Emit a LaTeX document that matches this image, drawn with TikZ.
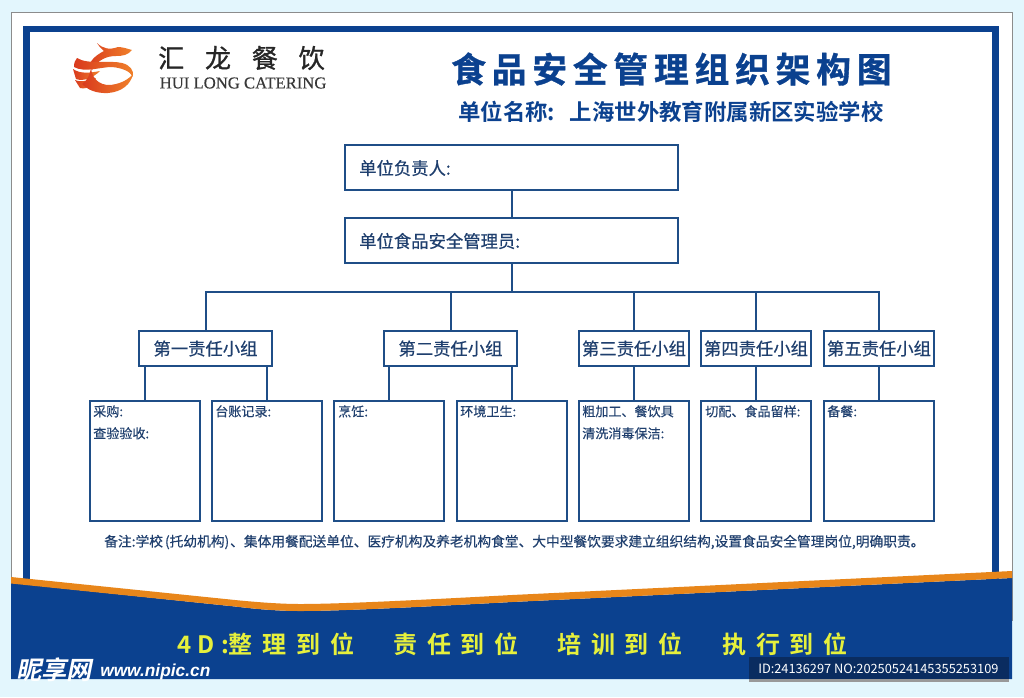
\documentclass[tikz,border=0pt]{standalone}
\usepackage{fontspec}
\setmainfont{Noto Sans CJK SC}
\newfontfamily\cjkb[BoldFont=Noto Sans CJK SC Bold]{Noto Sans CJK SC}
\newfontfamily\serifl{Liberation Serif}
\newfontfamily\sansl{Liberation Sans}
\definecolor{bgc}{HTML}{E3F6FD}
\definecolor{frame}{HTML}{0B418F}
\definecolor{linec}{HTML}{1F4E87}
\definecolor{txt}{HTML}{1F3F6E}
\definecolor{orangec}{HTML}{E8861A}
\definecolor{yel}{HTML}{E6F03C}
\definecolor{navy}{HTML}{0A2C60}
\definecolor{lred}{HTML}{D93A1E}
\definecolor{lora}{HTML}{F0812A}
\tikzset{
  x=0.75pt,y=-0.75pt,
  boxa/.style={draw=linec,line width=1.5pt,fill=white,inner sep=0pt},
  wire/.style={draw=linec,line width=1.5pt},
  toptext/.style={text=txt,anchor=west,inner sep=0pt,font=\fontsize{13}{15}\addfontfeature{FakeBold=0.4}\selectfont},
  grouptext/.style={text=txt,inner sep=0pt,font=\fontsize{13}{15}\addfontfeature{FakeBold=0.4}\selectfont},
  smalltext/.style={text=txt,anchor=north west,inner sep=0pt,align=left,font=\fontsize{9.8}{16.5}\addfontfeature{FakeBold=0.3}\selectfont},
  slogan/.style={text=yel,inner sep=0pt,anchor=west,font=\cjkb\fontsize{18}{20}\bfseries\addfontfeature{LetterSpace=41}\selectfont},
  logoband/.style={left color=lred,right color=lora},
}
\newcommand{\gbox}[4]{\node[boxa,minimum width=#3*0.75pt,minimum height=#4*0.75pt] (#1) at #2 {};}
\begin{document}
\begin{tikzpicture}
\useasboundingbox (0,0) rectangle (1024,697);
\fill[bgc] (0,0) rectangle (1024,697);
% panel
\draw[fill=white,draw=black!45,line width=0.6pt] (11.5,12.5) rectangle (1012,620);
\draw[frame,line width=4.8pt] (26.5,585) -- (26.5,29) -- (995.5,29) -- (995.5,585);
% band
\fill[frame] (11,583) -- (11,679) -- (1012,679) -- (1012,578) -- (512,602) .. controls (420,607) and (340,611) .. (300,611) .. controls (280,611) and (260,609.5) .. (235,606.5) -- cycle;
\fill[orangec] (11,577) -- (235,600) .. controls (255,602) and (280,604) .. (300,604) .. controls (340,604) and (420,600) .. (512,595) -- (1012,571) -- (1012,578) -- (512,602) .. controls (420,607) and (340,611) .. (300,611) .. controls (280,611) and (260,609.5) .. (235,606.5) -- (11,583.5) -- cycle;
% logo
\shade[logoband] (97,43) .. controls (103,49) and (110,50) .. (118,47) .. controls (123,47) and (128,49) .. (132,50) .. controls (128,55) and (123,56) .. (116,56) .. controls (106,56) and (98,60) .. (92,70) .. controls (86,64) and (94,56) .. (104,51) .. controls (101,49) and (99,46) .. (97,43) -- cycle;
\shade[logoband] (77,58) .. controls (88,65) and (110,60) .. (122,63) .. controls (130,65) and (134,70) .. (133,77) .. controls (130,71) and (122,68) .. (112,67) .. controls (100,67) and (85,73) .. (74,67) .. controls (74,63) and (75,60) .. (77,58) -- cycle;
\shade[logoband] (73,69) .. controls (80,74) and (90,73) .. (100,71) .. controls (94,77) and (84,82) .. (76,79) -- cycle;
\shade[logoband] (75,80) .. controls (82,83) and (90,80) .. (96,78) .. controls (94,84) and (88,90) .. (80,88) -- cycle;
\shade[logoband] (91,68) .. controls (92,80) and (102,88) .. (116,84) .. controls (124,82) and (130,78) .. (133,74) .. controls (131,84) and (122,92) .. (108,93) .. controls (96,93.5) and (88,90) .. (82,84) .. controls (88,80) and (90,74) .. (91,68) -- cycle;
\node[inner sep=0pt,anchor=west,text=black!85] (lgcn) at (158,58) {\fontsize{19.5}{20}\addfontfeature{LetterSpace=80,FakeBold=1}\selectfont 汇龙餐饮};
\node[inner sep=0pt,anchor=west,text=black!78] (lgen) at (159.5,83) {\serifl\fontsize{12.5}{14}\addfontfeature{FakeBold=0.3}\selectfont HUI LONG CATERING};
% titles
\node[inner sep=0pt,anchor=west,text=frame] (title) at (451,69) {\cjkb\fontsize{26}{28}\bfseries\addfontfeature{LetterSpace=17,FakeBold=1}\selectfont 食品安全管理组织架构图};
\node[inner sep=0pt,anchor=west,text=frame] (sub) at (458,112) {\cjkb\fontsize{16.8}{18}\bfseries\selectfont 单位名称:\hspace*{11pt}上海世外教育附属新区实验学校};
% boxes
\gbox{top}{(511.5,167.5)}{333}{45}
\gbox{second}{(511.5,240.5)}{333}{45}
\gbox{gA}{(205.5,348.5)}{133}{35}
\gbox{gB}{(450.5,348.5)}{133}{35}
\gbox{gC}{(634,348.5)}{110}{35}
\gbox{gD}{(756,348.5)}{110}{35}
\gbox{gE}{(879,348.5)}{110}{35}
\gbox{dA}{(144.5,461)}{110}{120}
\gbox{dB}{(267,461)}{110}{120}
\gbox{dC}{(389,461)}{110}{120}
\gbox{dD}{(512,461)}{110}{120}
\gbox{dE}{(634,461)}{110}{120}
\gbox{dF}{(756,461)}{110}{120}
\gbox{dG}{(879,461)}{110}{120}
% connectors
\coordinate (busL) at (gA |- 0,291.5);
\coordinate (busR) at (gE |- 0,291.5);
\coordinate (busM) at (second |- 0,291.5);
\draw[wire] (top) -- (second);
\draw[wire] (second) -- (busM);
\draw[wire] (gA.north) -- (busL) -- (busR) -- (gE.north);
\draw[wire] (gB.north) -- (gB |- busM);
\draw[wire] (gC.north) -- (gC |- busM);
\draw[wire] (gD.north) -- (gD |- busM);
\draw[wire] (dA.north) -- (dA |- gA.south);
\draw[wire] (dB.north) -- (dB |- gA.south);
\draw[wire] (dC.north) -- (dC |- gB.south);
\draw[wire] (dD.north) -- (dD |- gB.south);
\draw[wire] (dE.north) -- (gC.south);
\draw[wire] (dF.north) -- (gD.south);
\draw[wire] (dG.north) -- (gE.south);
% text
\node[toptext] (t1) at (359,168) {单位负责人:};
\node[toptext] (t2) at (359,241) {单位食品安全管理员:};
\node[grouptext] (ta) at (gA) {第一责任小组};
\node[grouptext] (tb) at (gB) {第二责任小组};
\node[grouptext] (tc) at (gC) {第三责任小组};
\node[grouptext] (td) at (gD) {第四责任小组};
\node[grouptext] (te) at (gE) {第五责任小组};
\node[smalltext] (sa) at (93,405) {采购:\\查验验收:};
\node[smalltext] (sb) at (215,405) {台账记录:};
\node[smalltext] (sc) at (338,405) {烹饪:};
\node[smalltext] (sd) at (460,405) {环境卫生:};
\node[smalltext] (se) at (582,405) {粗加工、餐饮具\\清洗消毒保洁:};
\node[smalltext] (sf) at (705,405) {切配、食品留样:};
\node[smalltext] (sg) at (827,405) {备餐:};
\node[inner sep=0pt,anchor=west,text=txt] (note) at (104,542) {\fontsize{10.3}{12}\addfontfeature{FakeBold=0.4}\selectfont 备注:学校\hspace*{1.5pt}(托幼机构)\hspace*{0.7pt}、集体用餐配送单位、医疗机构及养老机构食堂、大中型餐饮要求建立组织结构,设置食品安全管理岗位,明确职责。};
% slogans
\node[slogan] (s1) at (177,644) {{\addfontfeature{LetterSpace=26}4D:}整理到位};
\node[slogan] (s2) at (393,644) {责任到位};
\node[slogan] (s3) at (557,644) {培训到位};
\node[slogan] (s4) at (722,644) {执行到位};
% watermarks
\node[inner sep=0pt,anchor=west,text=white] (wm1) at (16,670) {\cjkb\fontsize{19}{20}\bfseries\addfontfeature{FakeSlant=0.2}\selectfont 昵享网};
\node[inner sep=0pt,anchor=west,text=white] (wm2) at (100,672) {\sansl\fontsize{13}{14}\bfseries\itshape\selectfont www.nipic.cn};
\fill[black!40] (749,660) rectangle (1009,682);
\fill[navy] (749,657) rectangle (1009,679);
\node[inner sep=0pt,anchor=west,text=white] (idt) at (758,669) {\fontsize{9.6}{12}\selectfont ID:24136297 NO:20250524145355253109};
\end{tikzpicture}
\end{document}
